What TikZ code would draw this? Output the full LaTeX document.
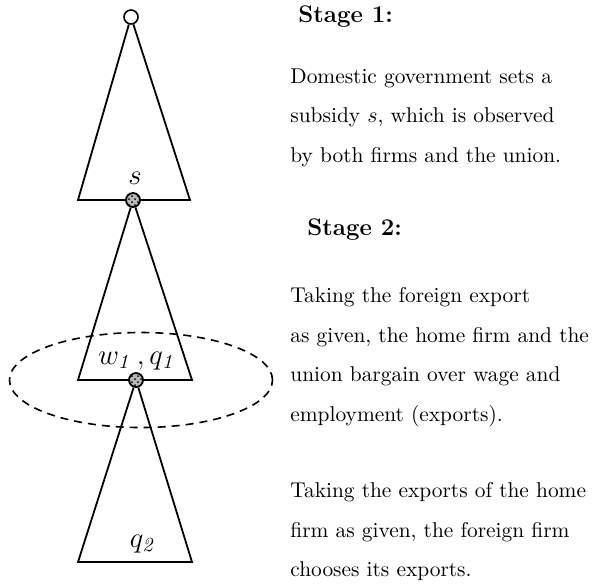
\documentclass[tikz,border=0pt]{standalone}
\usetikzlibrary{shapes.geometric,patterns}
\begin{document}
\begin{tikzpicture}[x=0.5pt,y=-0.5pt,
        root/.style={circle, draw, line width=0.8pt, fill=white, minimum size=7pt, inner sep=0pt},
        dec/.style={circle, draw, line width=0.9pt, fill=gray!55, minimum size=7pt, inner sep=0pt,
                    postaction={pattern=crosshatch dots}},
        edge/.style={line width=0.9pt},
        infoset/.style={ellipse, draw, dash pattern=on 4pt off 3pt, line width=0.8pt, inner sep=0pt,
                        minimum width=131.5pt, minimum height=47.5pt},
        lbl/.style={font=\Large},
        stage/.style={anchor=base west, inner sep=0pt, font=\large\bfseries},
        desc/.style={anchor=north west, inner sep=0pt, align=left, font=\fontsize{10.7}{19.75}\selectfont}
      ]
        \useasboundingbox (0,0) rectangle (592,586);
        % INFORMATION SET
        \node[infoset] (info) at (141,380) {};
        % DECISION NODES
        \node[root] (root) at (131,17) {};
        \node[dec] (s) at (133,200) {};
        \node[dec] (w) at (136,380) {};
        % BASE CORNERS
        \coordinate (a1l) at (78,200);
        \coordinate (a1r) at (190,200);
        \coordinate (a2l) at (78,380);
        \coordinate (a2r) at (192,380);
        \coordinate (a3l) at (78,562);
        \coordinate (a3r) at (192,562);
        % TRIANGLES
        \draw[edge] (root) -- (a1l) -- (s);
        \draw[edge] (s) -- (a1r) -- (root);
        \draw[edge] (s) -- (a2l) -- (w);
        \draw[edge] (w) -- (a2r) -- (s);
        \draw[edge] (w) -- (a3l) -- (a3r) -- (w);
        % LABELS
        \node[lbl] (slbl) at (135,178) {$s$};
        \node[lbl] (wq) at (137,361) {$w_{\mathit{1}}\,,q_{\mathit{1}}$};
        \node[lbl] (q2) at (143,544) {$q_{\mathit{2}}$};
        % STAGE TEXTS
        \node[stage] (st1) at (298,22) {Stage 1:};
        \node[desc] (d1) at (290,68) {Domestic government sets a\\subsidy $s$, which is observed\\by both firms and the union.};
        \node[stage] (st2) at (307,235) {Stage 2:};
        \node[desc] (d2) at (290,287) {Taking the foreign export\\as given, the home firm and the\\union bargain over wage and\\employment (exports).};
        \node[desc] (d3) at (290,482) {Taking the exports of the home\\firm as given, the foreign firm\\chooses its exports.};
      \end{tikzpicture}
\end{document}
